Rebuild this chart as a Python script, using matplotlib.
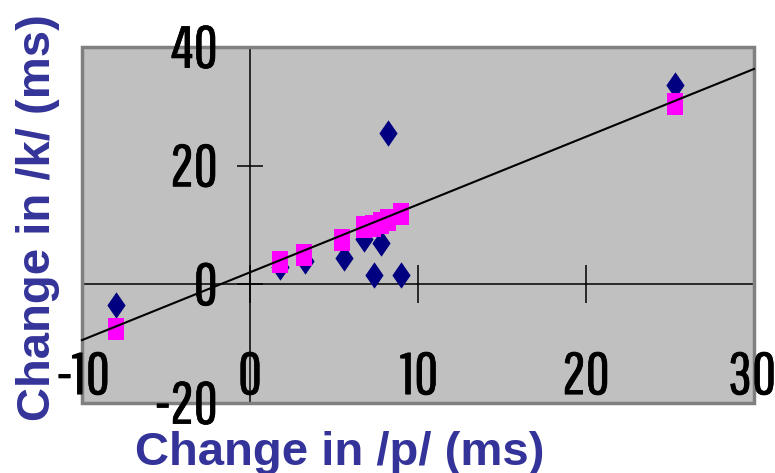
import matplotlib
matplotlib.use("Agg")
import matplotlib.pyplot as plt
from matplotlib.path import Path
from matplotlib.patches import Rectangle
from matplotlib import font_manager
from matplotlib.font_manager import FontProperties
from matplotlib.textpath import TextPath
import matplotlib.patheffects as pe

# ---- data ----
observed_x = [-8.0, 1.8, 3.3, 5.6, 6.8, 7.4, 7.8, 8.2, 9.0, 25.3]
observed_y = [-3.4, 2.9, 4.0, 4.4, 7.7, 1.5, 6.9, 25.5, 1.5, 33.6]
predicted_x = [-8.0, 1.8, 3.2, 5.5, 6.8, 7.3, 7.8, 8.2, 9.0, 25.3]
predicted_y = [-7.6, 3.7, 5.0, 7.5, 9.6, 9.9, 10.4, 10.8, 11.9, 30.4]
trend_x = [-10, 30]
trend_y = [-9.4, 36.3]
x_ticks = [-10, 0, 10, 20, 30]
y_ticks = [-20, 0, 20, 40]
x_label = "Change in /p/ (ms)"
y_label = "Change in /k/ (ms)"

# ---- pick a narrow tick font whose digits match the reference proportions ----
available = {f.name for f in font_manager.fontManager.ttflist}
candidates = ["Liberation Sans Narrow", "Arial Narrow", "Pragati Narrow", "Archivo Narrow",
              "PT Sans Narrow", "Roboto Condensed", "Sofia Sans Condensed",
              "Sofia Sans Extra Condensed", "Pathway Gothic One",
              "Fira Sans Extra Condensed", "Barlow Condensed", "IBM Plex Sans Condensed"]
target_ratio = 41.0 / 43.0   # ink width / ink height of "20" in the reference
best, best_err = None, 1e9
for nm in candidates:
    if nm not in available:
        continue
    ext = TextPath((0, 0), "20", size=100, prop=FontProperties(family=nm)).get_extents()
    err = abs(ext.width / ext.height - target_ratio)
    if err < best_err:
        best, best_err = nm, err
tick_family = ([best] if best else []) + ["Liberation Sans", "DejaVu Sans"]
tick_prop = FontProperties(family=tick_family[0])
label_family = ["Liberation Sans", "DejaVu Sans"]

W, H = 775, 473
DPI = 100
K = DPI / 72.0
fig = plt.figure(figsize=(W / DPI, H / DPI), dpi=DPI)
left, right, top, bottom = 82, 754, 47, 403
ax = fig.add_axes([left / W, 1 - bottom / H, (right - left) / W, (bottom - top) / H])
ax.set_xlim(-10, 30)
ax.set_ylim(-20, 40)
ax.set_facecolor("#C0C0C0")

ax.add_patch(Rectangle((0, 0), 1, 1, transform=ax.transAxes, fill=False,
                       edgecolor="#808080", lw=2.5, clip_on=False, zorder=5))

for s in ["top", "right"]:
    ax.spines[s].set_visible(False)
ax.spines["left"].set_position(("data", 0))
ax.spines["bottom"].set_position(("data", 0))
for s in ["left", "bottom"]:
    ax.spines[s].set_linewidth(1.1)
    ax.spines[s].set_color("black")
ax.set_xticks(x_ticks)
ax.set_yticks(y_ticks)
ax.tick_params(axis="x", direction="inout", length=27, width=1.1, labelbottom=False)
ax.tick_params(axis="y", direction="inout", length=19, width=1.1, labelleft=False)

diamond = Path([(0, 1), (0.69, 0), (0, -1), (-0.69, 0), (0, 1)],
               [Path.MOVETO, Path.LINETO, Path.LINETO, Path.LINETO, Path.CLOSEPOLY])
rect = Path([(-0.68, -1), (0.68, -1), (0.68, 1), (-0.68, 1), (-0.68, -1)],
            [Path.MOVETO, Path.LINETO, Path.LINETO, Path.LINETO, Path.CLOSEPOLY])

ax.plot(observed_x, observed_y, linestyle="none", marker=diamond, markersize=19,
        color="#000080", markeredgewidth=0, zorder=3, clip_on=False)
ax.plot(predicted_x, predicted_y, linestyle="none", marker=rect, markersize=16,
        color="#FF00FF", markeredgewidth=0, zorder=4, clip_on=False)
ax.plot(trend_x, trend_y, color="black", lw=1.5, zorder=6, clip_on=False)

# ---- tick labels as real text, sized and placed by glyph ink extents ----
ref_ext = TextPath((0, 0), "20", size=100, prop=tick_prop).get_extents()
digit_h_px = 43.0
fs = 100 * digit_h_px / (ref_ext.height * K)   # font size in points
thicken = [pe.withStroke(linewidth=0.5, foreground="black")]

def ink(s):
    return TextPath((0, 0), s, size=fs, prop=tick_prop).get_extents()

def put(s, anchor_px_x, anchor_px_y):
    xy = ax.transData.inverted().transform((anchor_px_x, anchor_px_y))
    ax.text(xy[0], xy[1], s, ha="left", va="baseline", fontsize=fs,
            family=tick_family, color="black", zorder=7, path_effects=thicken)

x_nudge = {-10: 1, 30: -2}
for v in x_ticks:
    s = str(v)
    e = ink(s)
    cx = ax.transData.transform((v, 0))[0] + x_nudge.get(v, 0)
    bottom_px = H - 395
    put(s, cx - (e.x0 + e.width / 2) * K, bottom_px - e.y0 * K)

for v in y_ticks:
    s = str(v)
    e = ink(s)
    cy = ax.transData.transform((0, v))[1]
    right_px = 215
    put(s, right_px - e.x1 * K, cy - (e.y0 + e.height / 2) * K)

# ---- axis titles ----
lab_color = "#333399"
fig.text(340 / W, 1 - 465 / H, x_label, ha="center", va="baseline", fontsize=34,
         fontweight="bold", family=label_family, color=lab_color)
fig.text(50 / W, 1 - 218 / H, y_label, ha="center", va="baseline", rotation=90,
         rotation_mode="anchor", fontsize=34, fontweight="bold",
         family=label_family, color=lab_color)

fig.savefig("out.png", dpi=DPI)
